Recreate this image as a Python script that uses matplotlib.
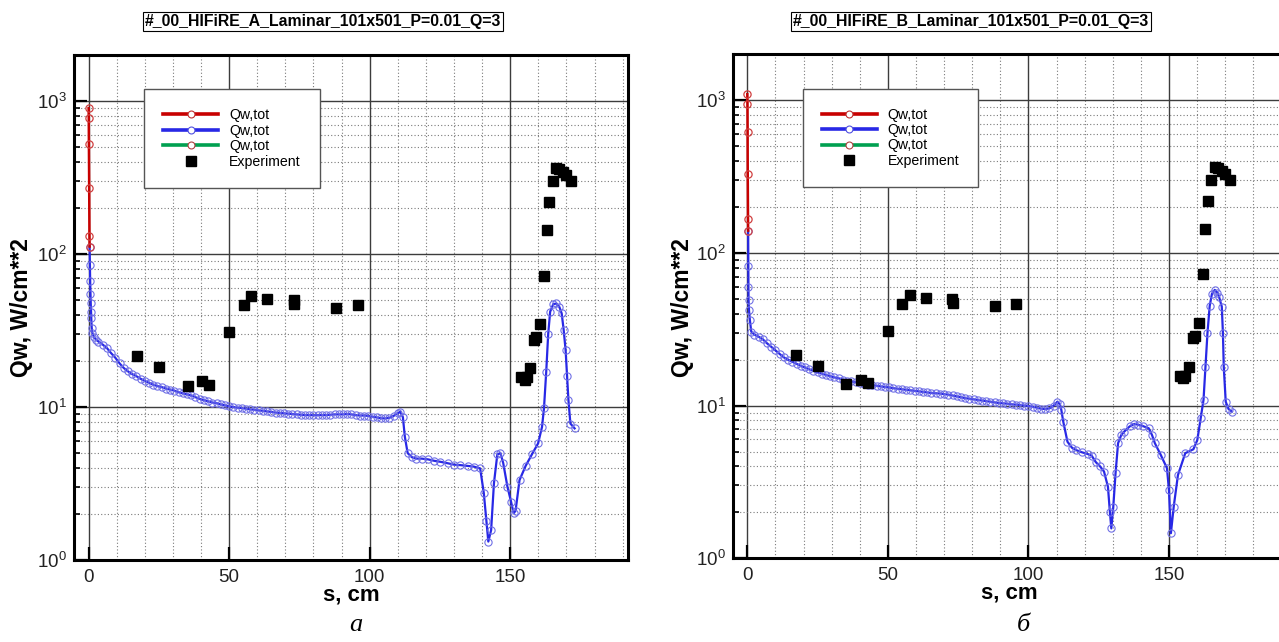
import numpy as np
import matplotlib
matplotlib.use("Agg")
import matplotlib.pyplot as plt
from matplotlib.lines import Line2D
from matplotlib.ticker import LogLocator, FixedLocator, NullFormatter

plt.rcParams['font.family'] = ['Liberation Sans', 'DejaVu Sans']
plt.rcParams['mathtext.default'] = 'regular'

# ---------------- data ----------------
titles = ["#_00_HIFiRE_A_Laminar_101x501_P=0.01_Q=3",
          "#_00_HIFiRE_B_Laminar_101x501_P=0.01_Q=3"]
panel_labels = ["а", "б"]
legend_labels = ["Qw,tot", "Qw,tot", "Qw,tot", "Experiment"]

# Panel A
a_red_s = [0.0, 0.05, 0.1, 0.2, 0.3, 0.35]
a_red_q = [900, 780, 520, 272, 131, 112]
a_blue_s = [0.35, 0.45, 0.55, 0.65, 0.75, 0.85, 0.95, 1.1, 1.3, 2.0, 2.8, 3.5, 5.0, 6.5,
            8.0, 9.5, 11.0, 12.5, 14.0, 15.5, 17.0, 18.5, 20.0, 21.5, 23.0, 24.5, 26.0,
            27.5, 29.0, 30.5, 32.0, 33.5, 35.0, 36.5, 38.0, 39.5, 41.0, 42.5, 44.0, 45.5,
            47.0, 48.5, 50.0, 51.5, 53.0, 54.5, 56.0, 57.5, 59.0, 60.5, 62.0, 63.5, 65.0,
            66.5, 68.0, 69.5, 71.0, 72.5, 74.0, 75.5, 77.0, 78.5, 80.0, 81.5, 83.0, 84.5,
            86.0, 87.5, 89.0, 90.5, 92.0, 93.5, 95.0, 96.5, 98.0, 99.5, 101.0, 102.5, 104.0,
            105.5, 107.0, 108.5, 110.0, 110.8,
            111.8, 112.5, 113.5, 115,
            116.5, 118.5, 120.7, 123, 125, 128, 130, 132.3, 135, 137, 139.3, 140.6, 141.5,
            142.2, 143.2, 144.2, 145.4, 146.5, 147.5, 149, 150.3, 151.2, 151.9, 153.3, 155.5,
            157.7, 159.9, 161.3, 162, 162.8, 163.5, 164.2, 165.3, 166.4, 167.5, 168.3, 169,
            169.7, 170.2, 170.7, 171.4, 172.9]
a_blue_q = [112, 85, 67, 55, 48, 42, 38, 33, 30.5, 28.5, 27.4, 26.8, 25.6, 24.3,
            22.5, 21.0, 19.3, 18.0, 17.1, 16.4, 15.9, 15.3, 14.8, 14.4, 14.0, 13.7, 13.5,
            13.2, 13.0, 12.8, 12.5, 12.3, 12.1, 11.9, 11.6, 11.3, 11.1, 10.9, 10.7, 10.6,
            10.4, 10.25, 10.1, 10.0, 9.9, 9.85, 9.75, 9.65, 9.6, 9.5, 9.45, 9.35, 9.3,
            9.2, 9.15, 9.1, 9.05, 9.0, 8.95, 8.9, 8.85, 8.85, 8.85, 8.85, 8.85, 8.85,
            8.9, 8.95, 8.95, 8.95, 9.0, 8.95, 8.85, 8.8, 8.8, 8.75, 8.65, 8.55, 8.45,
            8.42, 8.5, 8.75, 9.1, 9.3,
            8.6, 6.4, 5.0, 4.7,
            4.6, 4.6, 4.55, 4.45, 4.39, 4.28, 4.2, 4.17, 4.12, 4.08, 3.97, 2.73, 1.8,
            1.32, 1.57, 3.17, 4.9, 5.0, 4.3, 3.01, 2.4, 2.02, 2.1, 3.33, 4.13,
            4.9, 5.78, 7.4, 9.8, 17, 30, 42, 47, 47.5, 45, 40.9, 32,
            23.5, 16, 11.1, 7.8, 7.25]

# Panel B
b_red_s = [0.0, 0.05, 0.1, 0.15, 0.25, 0.3]
b_red_q = [1097, 948, 622, 330, 167, 140]
b_blue_s = [0.3, 0.35, 0.4, 0.45, 0.6, 0.9, 1.4, 2.5, 4.0, 5.5, 7.0, 8.5, 10.0, 11.5, 13.0,
            14.5, 16.0, 17.5, 19.0, 20.5, 22.0, 23.5, 25.0, 26.5, 28.0, 29.5, 31.0, 32.5,
            34.0, 35.5, 37.0, 38.5, 40.0, 41.5, 43.0, 44.5, 46.0, 47.5, 49.0, 50.5, 52.0,
            53.5, 55.0, 56.5, 58.0, 59.5, 61.0, 62.5, 64.0, 65.5, 67.0, 68.5, 70.0, 71.5,
            73.0, 74.5, 76.0, 77.5, 79.0, 80.5, 82.0, 83.5, 85.0, 86.5, 88.0, 89.5, 91.0,
            92.5, 94.0, 95.5, 97.0, 98.5, 100.0, 101.5, 103.0, 104.5, 106.0, 107.5, 109.0,
            110.3, 111.2, 111.7,
            112.4, 113.9, 115.5, 116.8, 119, 121.1, 122.5, 124, 125.5, 126.9, 128.3, 129,
            129.5, 130.2, 131, 131.9, 133, 134.1, 136, 137.7, 139, 140.6, 142.8, 144, 145,
            147.1, 149.3, 150, 150.7, 151.7, 153.2, 155.8, 158.7, 160.1, 161.3, 162.3, 163,
            163.7, 164.5, 165.3, 166.3, 167.2, 167.8, 168.8, 169.2, 169.5, 170.2, 171.2, 172.4]
b_blue_q = [140, 82, 60, 49, 42, 36.5, 30.5, 29.2, 28.3, 27.2, 25.6, 24.3, 23.0, 21.8, 20.7,
            20.0, 19.4, 18.8, 18.2, 17.8, 17.3, 16.9, 16.5, 16.2, 15.9, 15.6, 15.3, 15.1,
            14.8, 14.6, 14.4, 14.2, 14.0, 13.85, 13.7, 13.6, 13.5, 13.35, 13.25, 13.15, 13.0,
            12.9, 12.8, 12.7, 12.6, 12.5, 12.4, 12.3, 12.2, 12.1, 12.05, 12.0, 11.9, 11.8,
            11.65, 11.5, 11.35, 11.2, 11.1, 11.0, 10.9, 10.8, 10.7, 10.6, 10.5, 10.4, 10.35,
            10.3, 10.2, 10.15, 10.1, 10.0, 9.95, 9.85, 9.7, 9.55, 9.5, 9.6, 10.0,
            10.6, 10.2, 9.4,
            7.85, 5.8, 5.3, 5.13, 4.95, 4.82, 4.7, 4.26, 4.0, 3.7, 2.94, 2.0,
            1.57, 2.18, 3.6, 5.67, 6.4, 6.76, 7.3, 7.59, 7.5, 7.36, 7.11, 6.4, 5.67,
            4.75, 3.89, 2.8, 1.46, 2.18, 3.51, 4.88, 5.18, 5.96, 8.27, 10.9, 18,
            29.8, 45, 54, 57.3, 55, 51.8, 44.5, 30, 18, 10.6, 9.5, 9.14]

# Experiment (same for both panels)
exp_s = [17.2, 25.1, 35.2, 40.3, 42.9, 50.1, 55.2, 57.7, 63.6, 72.9, 73.2, 88.1, 95.7,
         154.0, 155.1, 155.8, 157.2, 158.4, 159.3, 160.6, 162.0, 163.0, 163.9, 165.1,
         166.4, 167.4, 168.8, 170.0, 171.7]
exp_q = [21.5, 18.3, 13.8, 14.8, 14.0, 30.7, 46.3, 53.3, 50.7, 49.9, 47.0, 44.7, 46.5,
         15.7, 15.1, 15.7, 17.9, 27.6, 28.7, 34.8, 72.3, 143.7, 218, 302,
         367, 362, 343, 327, 300]

x_major = [0, 50, 100, 150]
x_minor = [10, 20, 30, 40, 60, 70, 80, 90, 110, 120, 130, 140, 160, 170, 180, 190]

RED = '#c80000'
BLUE = '#2828e6'
BLUE_MK = '#7070e6'
GREEN = '#00a050'

W, H = 1279, 642
fig = plt.figure(figsize=(W / 100, H / 100), dpi=100)


def fx(px):
    return px / W


def fy(py):
    return 1 - py / H


panels = [
    dict(rect=[fx(74), fy(560), fx(628.3 - 74), (560 - 55) / H],
         red=(a_red_s, a_red_q), blue=(a_blue_s, a_blue_q),
         title_xy=(323, 21.5), ylab_x=21.5, xlab_xy=(351, 601), sub_xy=(356, 631)),
    dict(rect=[fx(732.7), fy(558.3), fx(628.3 - 74), (558.3 - 54.3) / H],
         red=(b_red_s, b_red_q), blue=(b_blue_s, b_blue_q),
         title_xy=(971, 21.5), ylab_x=682, xlab_xy=(1009, 599), sub_xy=(1023, 631)),
]

for i, p in enumerate(panels):
    ax = fig.add_axes(p['rect'])
    ax.set_yscale('log')
    ax.set_xlim(-5.2, 192)
    ax.set_ylim(1, 2000)

    # grids
    ax.xaxis.set_major_locator(FixedLocator(x_major))
    ax.xaxis.set_minor_locator(FixedLocator(x_minor))
    ax.yaxis.set_major_locator(LogLocator(base=10, numticks=10))
    ax.yaxis.set_minor_locator(LogLocator(base=10, subs=np.arange(2, 10), numticks=10))
    ax.yaxis.set_minor_formatter(NullFormatter())
    ax.grid(True, which='major', color='#3c3c3c', lw=1.0, ls='-', zorder=0)
    ax.grid(True, which='minor', color='#7a7a7a', lw=0.8, ls=(0, (1, 2)), zorder=0)
    ax.set_axisbelow(True)

    ax.tick_params(axis='x', which='major', direction='in', length=9.5, width=1.6,
                   labelsize=13.5, pad=6.5, colors='black', labelcolor='#222222')
    ax.tick_params(axis='x', which='minor', length=0)
    ax.tick_params(axis='y', which='major', direction='in', length=9.5, width=1.6,
                   labelsize=13.5, pad=5, labelcolor='#222222')
    ax.tick_params(axis='y', which='minor', direction='in', length=4.5, width=1.2)

    for sp in ax.spines.values():
        sp.set_linewidth(2.2)
        sp.set_color('black')

    rs, rq = p['red']
    bs, bq = p['blue']
    ax.plot(bs, bq, color=BLUE, lw=1.6, marker='o', ms=5.2, mfc='none', mec=BLUE_MK,
            mew=0.8, zorder=3)
    ax.plot(rs, rq, color=RED, lw=1.8, marker='o', ms=5.2, mfc='none', mec='#d04040',
            mew=0.9, zorder=4)
    ax.plot(exp_s, exp_q, ls='none', marker='s', ms=6.6, color='black', zorder=5)

    handles = [
        Line2D([], [], color=RED, lw=2.6, marker='o', ms=5, mfc='white', mec='#c03030', mew=0.8),
        Line2D([], [], color=BLUE, lw=2.6, marker='o', ms=5, mfc='white', mec='#5050e0', mew=0.8),
        Line2D([], [], color=GREEN, lw=2.6, marker='o', ms=5, mfc='white', mec='#b04040', mew=0.8),
        Line2D([], [], ls='none', marker='s', ms=6.5, color='black'),
    ]
    leg = ax.legend(handles, legend_labels, loc='upper left',
                    bbox_to_anchor=((144 - 74) / 554.3, (560 - 89.3) / 505),
                    prop={'size': 10.2, 'family': 'Liberation Sans'},
                    handlelength=3.9, handletextpad=0.75, borderpad=1.35,
                    labelspacing=0.1, borderaxespad=0, fancybox=False,
                    framealpha=1, edgecolor='#555555')
    leg.get_frame().set_linewidth(1.0)
    leg.set_zorder(10)

    tx, ty = p['title_xy']
    fig.text(fx(tx), fy(ty), titles[i], ha='center', va='center', fontsize=11.4,
             fontweight='bold',
             bbox=dict(boxstyle='square,pad=0.12', fc='white', ec='black', lw=0.8))
    fig.text(fx(p['ylab_x']), fy(307.5), 'Qw, W/cm**2', rotation=90, ha='center',
             va='center', fontsize=16.5, fontweight='bold')
    xx, xy = p['xlab_xy']
    fig.text(fx(xx), fy(xy), 's, cm', ha='center', va='baseline', fontsize=16,
             fontweight='bold')
    sx, sy = p['sub_xy']
    fig.text(fx(sx), fy(sy), panel_labels[i], ha='center', va='baseline', fontsize=19,
             fontstyle='italic', family='Liberation Serif')

fig.savefig('out.png', dpi=100)
